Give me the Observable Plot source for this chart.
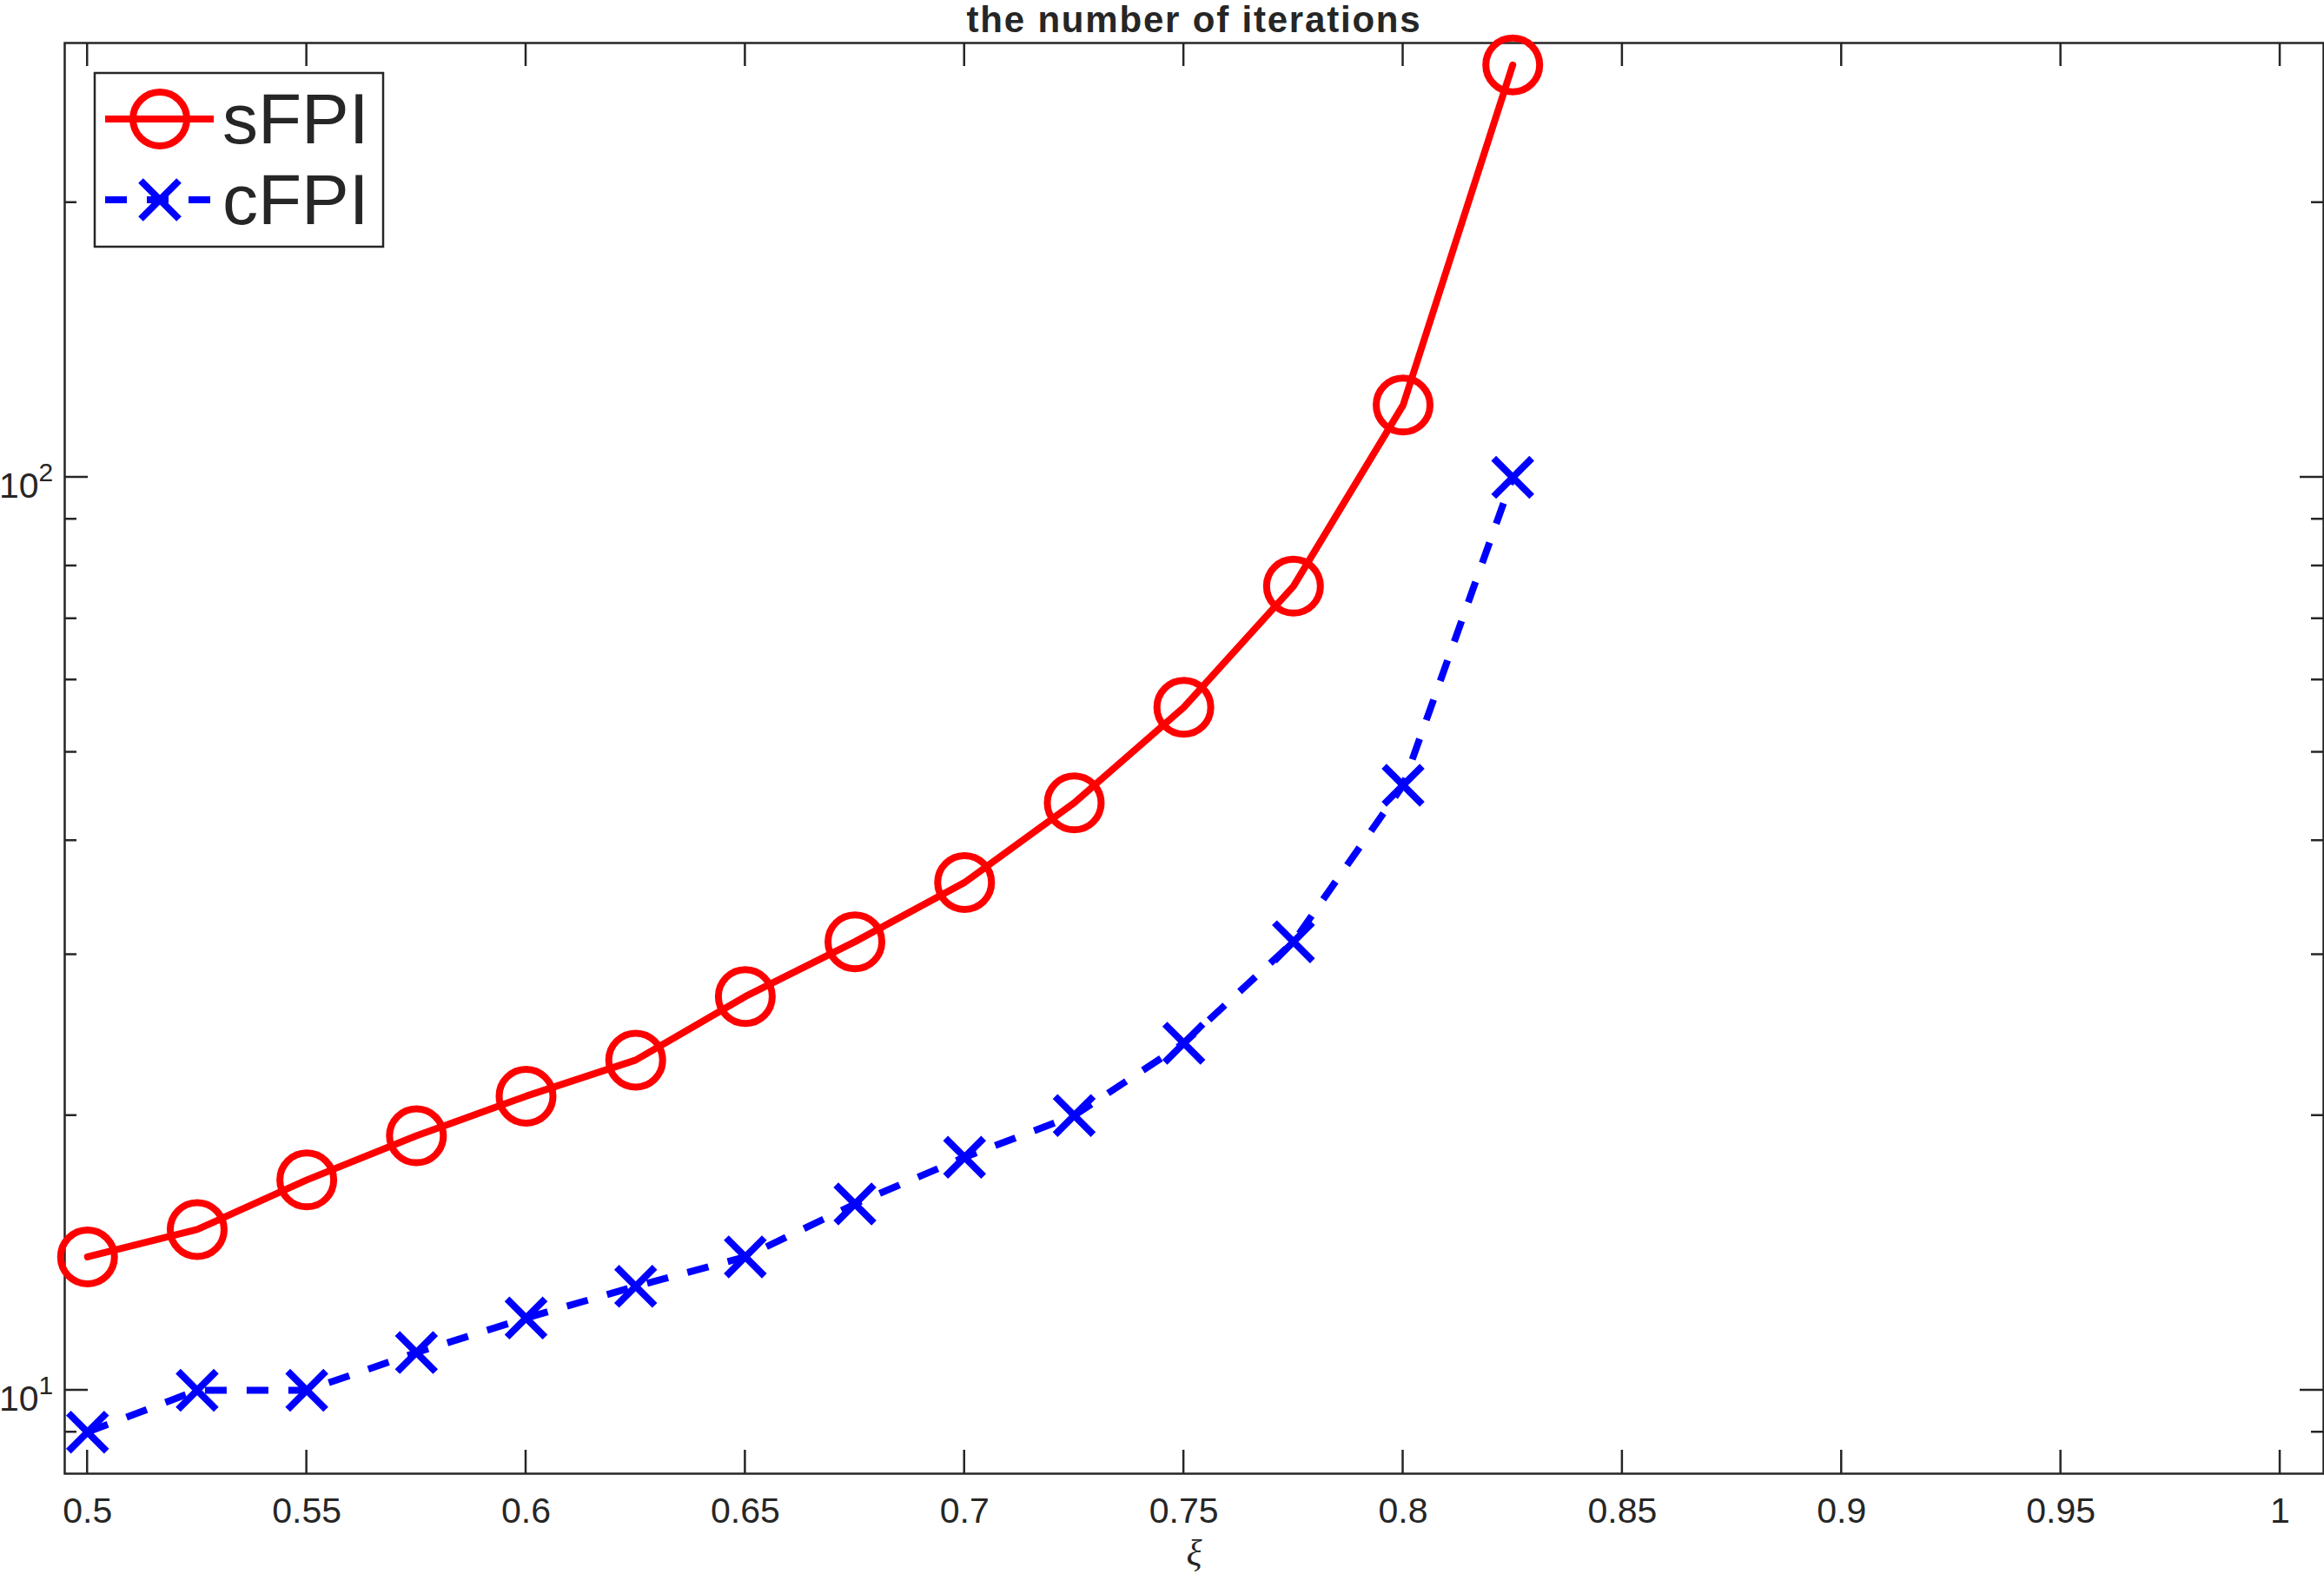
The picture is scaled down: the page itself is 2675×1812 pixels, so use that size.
<!DOCTYPE html>
<html><head><meta charset="utf-8">
<script src="https://cdn.jsdelivr.net/npm/d3@7"></script>
<script src="https://cdn.jsdelivr.net/npm/@observablehq/plot@0.6"></script>
<style>html,body{margin:0;padding:0;background:#fff;} svg{display:block}</style>
</head><body><div id="chart"></div>
<script>
// ---- data ----
const xi    = [0.5, 0.525, 0.55, 0.575, 0.6, 0.625, 0.65, 0.675, 0.7, 0.725, 0.75, 0.775, 0.8, 0.825];
const sFPI  = [14, 15, 17, 19, 21, 23, 27, 31, 36, 44, 56, 76, 120, 283];
const cFPI  = [9, 10, 10, 11, 12, 13, 14, 16, 18, 20, 24, 31, 46, 100];
const seriesNames = ["sFPI", "cFPI"];
const xTicks = [0.5, 0.55, 0.6, 0.65, 0.7, 0.75, 0.8, 0.85, 0.9, 0.95, 1];
const xTickLabels = ["0.5", "0.55", "0.6", "0.65", "0.7", "0.75", "0.8", "0.85", "0.9", "0.95", "1"];
const yMajor = [10, 100];
const yMajorExp = ["1", "2"];
const yMinor = [9, 20, 30, 40, 50, 60, 70, 80, 90, 200];
const titleText = "the number of iterations";
const xLabel = "\u03BE";

const RED = "#ff0000", BLUE = "#0000ff", INK = "#262626";
const sRows = xi.map((x, i) => ({x, v: sFPI[i]}));
const cRows = xi.map((x, i) => ({x, v: cFPI[i]}));

function ticksMark(index, scales, values, dims) {
  const {x, y} = scales;
  const {width, height, marginLeft, marginRight, marginTop, marginBottom} = dims;
  const L = marginLeft, R = width - marginRight, T = marginTop, B = height - marginBottom;
  const major = 27, minor = 14;
  let p = "";
  for (const t of xTicks) { const px = x(t); p += `M${px},${B}v${-major}M${px},${T}v${major}`; }
  for (const t of yMajor) { const py = y(t); p += `M${L},${py}h${major}M${R},${py}h${-major}`; }
  for (const t of yMinor) { const py = y(t); p += `M${L},${py}h${minor}M${R},${py}h${-minor}`; }
  const g = d3.create("svg:g");
  g.append("path").attr("d", p).attr("fill", "none").attr("stroke", INK).attr("stroke-width", 2.5);
  return g.node();
}

function legendMark() {
  const g = d3.create("svg:g");
  g.append("rect").attr("x", 109).attr("y", 84).attr("width", 332).attr("height", 200)
    .attr("fill", "white").attr("stroke", INK).attr("stroke-width", 2.5);
  const rows = [
    {name: seriesNames[0], cy: 137, base: 165, color: RED, dash: null, sym: "circle"},
    {name: seriesNames[1], cy: 230, base: 258, color: BLUE, dash: "25,23", sym: "times"}
  ];
  for (const r of rows) {
    const ln = g.append("line").attr("x1", 121).attr("x2", 246).attr("y1", r.cy).attr("y2", r.cy)
      .attr("stroke", r.color).attr("stroke-width", 8);
    if (r.dash) ln.attr("stroke-dasharray", r.dash);
    if (r.sym === "circle") {
      g.append("circle").attr("cx", 184).attr("cy", r.cy).attr("r", 31)
        .attr("fill", "none").attr("stroke", r.color).attr("stroke-width", 8);
    } else {
      const a = 22;
      g.append("path").attr("d", `M${184-a},${r.cy-a}L${184+a},${r.cy+a}M${184-a},${r.cy+a}L${184+a},${r.cy-a}`)
        .attr("stroke", r.color).attr("stroke-width", 8).attr("fill", "none");
    }
    g.append("text").attr("x", 256).attr("y", r.base).attr("fill", INK).attr("text-anchor", "start")
      .attr("font-size", 82).attr("font-family", "'Liberation Sans', Arial, sans-serif").text(r.name);
  }
  return g.node();
}

const chart = Plot.plot({
  width: 2675,
  height: 1812,
  marginLeft: 74,
  marginRight: 1,
  marginTop: 49,
  marginBottom: 116,
  x: {domain: [0.4948, 1.0099], axis: null},
  y: {type: "log", domain: [8.104, 299.1], axis: null},
  style: {fontFamily: "'Liberation Sans', Arial, sans-serif", fontSize: "41px", color: INK, background: "white", overflow: "visible"},
  marks: [
    Plot.frame({stroke: INK, strokeWidth: 2.5}),
    ticksMark,
    Plot.text(xTicks, {x: d => d, frameAnchor: "bottom", lineAnchor: "bottom", dy: 56, fontSize: 41, fill: INK,
      text: (d, i) => xTickLabels[i]}),
    Plot.text(yMajor, {y: d => d, frameAnchor: "left", textAnchor: "end", lineAnchor: "bottom", dx: -30, dy: 23, fontSize: 41, fill: INK,
      text: () => "10"}),
    Plot.text(yMajor, {y: d => d, frameAnchor: "left", textAnchor: "start", lineAnchor: "bottom", dx: -30, dy: 4, fontSize: 30, fill: INK,
      text: (d, i) => yMajorExp[i]}),
    Plot.text([titleText], {frameAnchor: "top", lineAnchor: "bottom", dy: -13, fontSize: 42, fontWeight: "bold", fill: INK,
      text: d => d, style: "letter-spacing: 1.8px"}),
    Plot.text([xLabel], {frameAnchor: "bottom", lineAnchor: "bottom", dy: 105, fontSize: 42, fontStyle: "italic",
      fontFamily: "'Liberation Serif', 'DejaVu Serif', serif", fill: INK, text: d => d}),
    Plot.line(cRows, {x: "x", y: "v", stroke: BLUE, strokeWidth: 8, strokeDasharray: "25,23", strokeLinecap: "butt", strokeLinejoin: "round"}),
    Plot.line(sRows, {x: "x", y: "v", stroke: RED, strokeWidth: 8, strokeLinejoin: "round"}),
    Plot.dot(sRows, {x: "x", y: "v", r: 31, stroke: RED, strokeWidth: 8, fill: "none"}),
    Plot.dot(cRows, {x: "x", y: "v", r: 20, symbol: "times", stroke: BLUE, strokeWidth: 8, fill: "none"}),
    legendMark
  ]
});
// letter spacing for the title (MATLAB Helvetica is wider than Liberation Sans)
d3.select(chart).selectAll("text").filter(function() { return this.textContent === titleText; })
  .attr("letter-spacing", "1.8px");
document.getElementById("chart").appendChild(chart);
</script></body></html>
